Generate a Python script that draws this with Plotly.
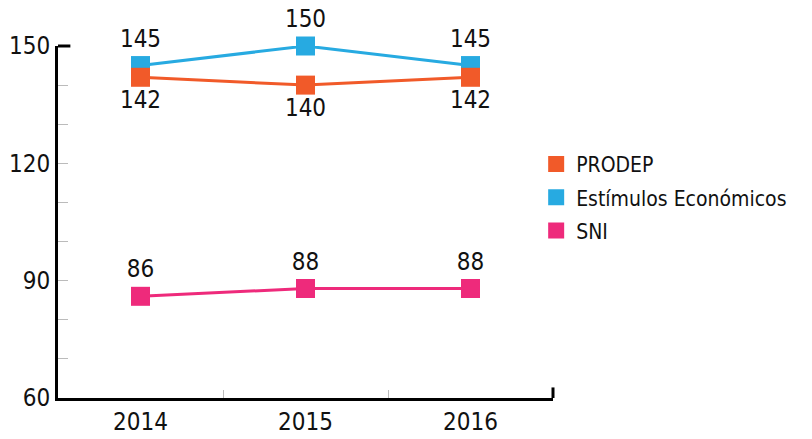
import plotly.graph_objects as go

years = ["2014", "2015", "2016"]
prodep = [142, 140, 142]
estimulos = [145, 150, 145]
sni = [86, 88, 88]

names = ["PRODEP", "Estímulos Económicos", "SNI"]
colors = ["#F15A29", "#27AAE1", "#EE2A7B"]
y_tickvals = [60, 70, 80, 90, 100, 110, 120, 130, 140, 150]
y_ticktext = ["60", "", "", "90", "", "", "120", "", "", "150"]

FONT = "DejaVu Sans Condensed, Liberation Sans Narrow, sans-serif"

fig = go.Figure()

series = [
    (names[2], sni, colors[2], "top center"),
    (names[1], estimulos, colors[1], "top center"),
    (names[0], prodep, colors[0], "bottom center"),
]
for name, vals, col, pos in series:
    fig.add_trace(go.Scatter(
        x=years, y=vals, mode="lines+markers+text", name=name,
        text=[str(v) for v in vals], textposition=pos,
        textfont=dict(family=FONT, size=24, color="#111"),
        line=dict(color=col, width=3),
        marker=dict(symbol="square", size=19, color=col),
        cliponaxis=False, showlegend=False,
    ))

for rank, (name, col) in enumerate(zip(names, colors)):
    fig.add_trace(go.Scatter(
        x=[None], y=[None], mode="markers", name=name,
        legendgroup="g%d" % rank,
        marker=dict(symbol="square", size=16, color=col),
        showlegend=True, legendrank=rank + 1,
    ))

fig.update_layout(
    width=812, height=439,
    margin=dict(l=58, r=259, t=46, b=41, autoexpand=False),
    paper_bgcolor="white", plot_bgcolor="white",
    font=dict(family=FONT, size=24, color="#111"),
    legend=dict(x=0.966, y=0.722, xanchor="left", yanchor="top",
                font=dict(family=FONT, size=21, color="#111"),
                itemwidth=30, tracegroupgap=3, bgcolor="rgba(0,0,0,0)"),
    xaxis=dict(type="category", range=[-0.5, 2.5], showgrid=False,
               showline=True, linecolor="black", linewidth=3,
               ticks="inside", tickson="boundaries", ticklen=8,
               tickcolor="#bbbbbb", tickwidth=1, automargin=False,
               tickfont=dict(family=FONT, size=24, color="#111"),
               zeroline=False),
    yaxis=dict(range=[60, 150], showgrid=False, zeroline=False,
               showline=True, linecolor="black", linewidth=3,
               tickvals=y_tickvals, ticktext=y_ticktext, automargin=False,
               ticks="inside", ticklen=10, tickcolor="#bbbbbb", tickwidth=1,
               tickfont=dict(family=FONT, size=24, color="#111")),
    shapes=[
        dict(type="line", xref="paper", yref="paper", x0=0, x1=0.025, y0=1, y1=1,
             line=dict(color="black", width=3)),
        dict(type="line", xref="paper", yref="paper", x0=1, x1=1, y0=0, y1=0.03,
             line=dict(color="black", width=3)),
    ],
)

fig.write_html("out.html", config={"displayModeBar": False},
               post_script="document.body.style.margin='0';document.body.style.overflow='hidden';")
